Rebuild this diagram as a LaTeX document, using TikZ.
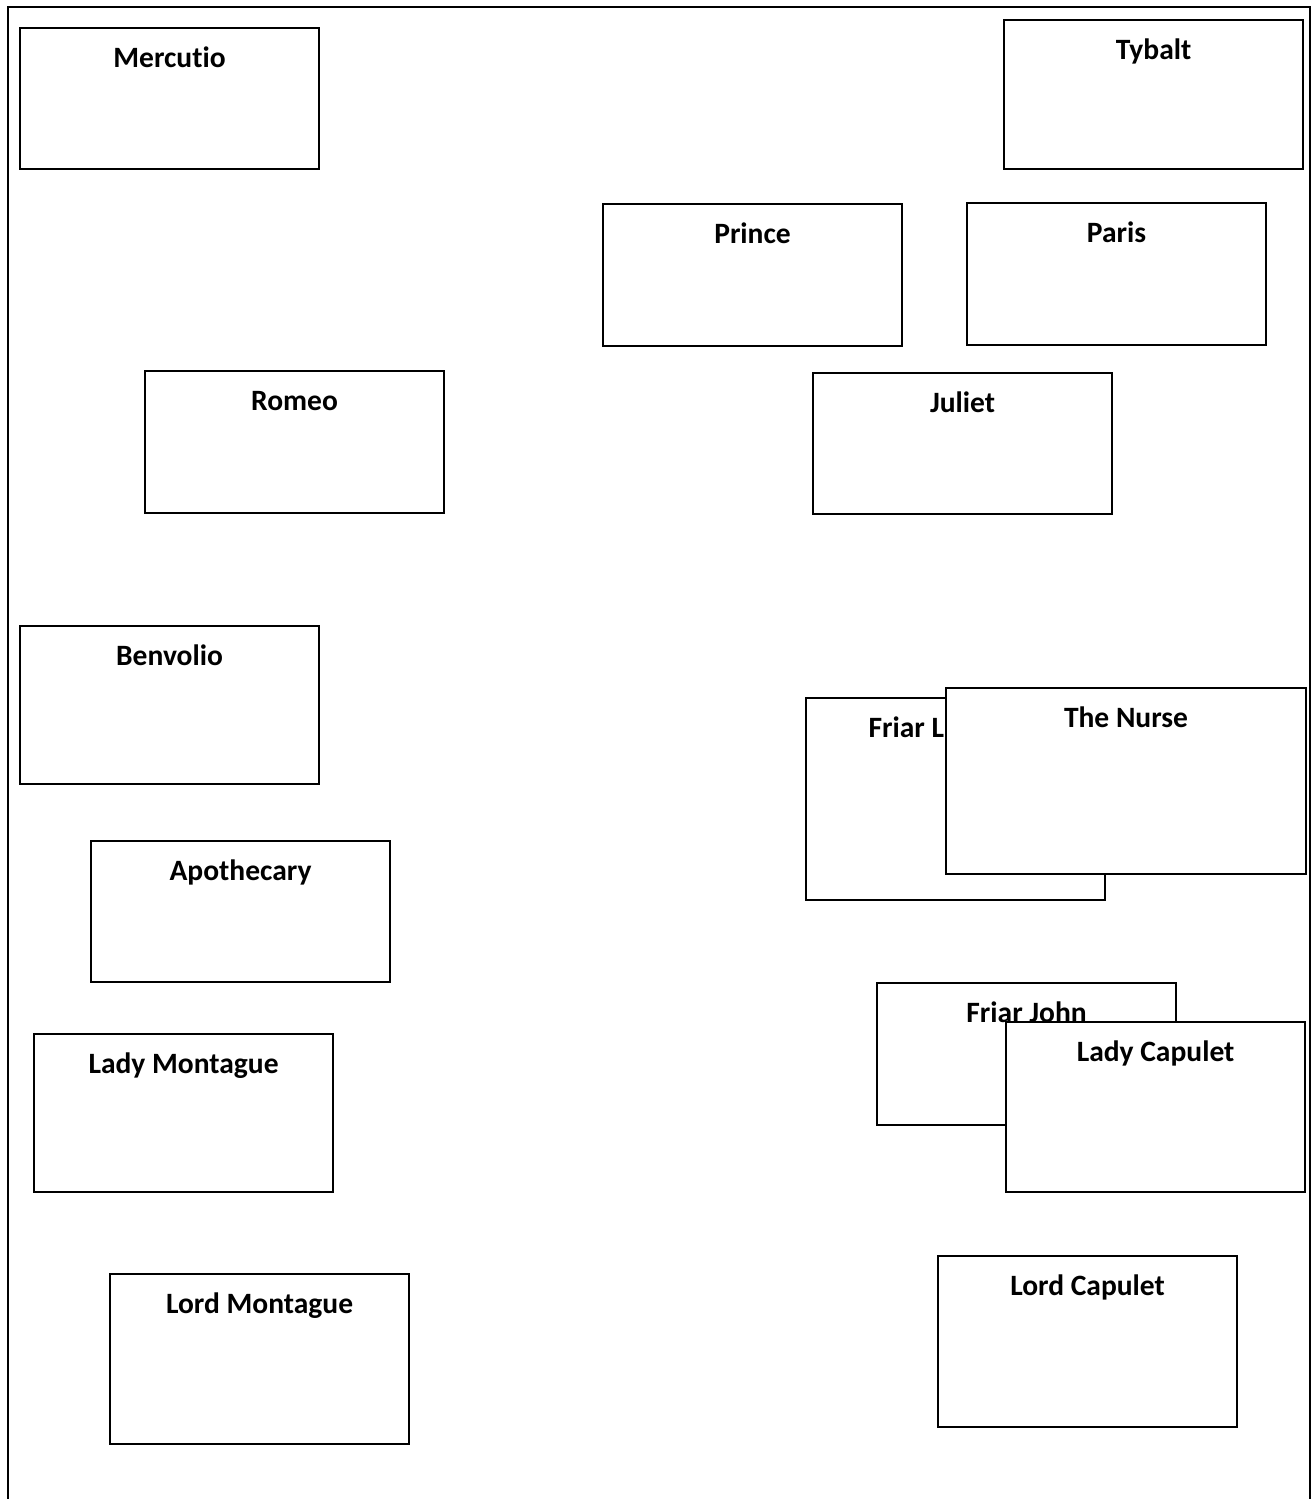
\documentclass[tikz,border=0pt]{standalone}
\usepackage{fontspec}
\setsansfont{Carlito}[Ligatures=NoCommon]
\usetikzlibrary{positioning}
\tikzset{
  frame/.style={draw=black,semithick},
  card/.style={draw=black,semithick,fill=white,anchor=north west,inner sep=0pt,
    minimum width=29.9mm,text height=3.9mm,align=center,
    font=\sffamily\bfseries\fontsize{8.4}{10}\selectfont},
  every node/.style={font=\sffamily\bfseries}
}
\begin{document}
\begin{tikzpicture}[x=0.1mm,y=-0.1mm]
\useasboundingbox (0,0) rectangle (1311,1499);
% outer page frame, open at the bottom
\coordinate (fl) at (8,1499);
\coordinate (fr) at (1310,1499);
\draw[frame] (fl) -- (8,7) -- (1310,7) -- (fr);
% left column
\node[card,text depth=10.2mm] (mercutio) at (19,27) {Mercutio};
\node[card,text depth=10.3mm] (romeo) at (144,370) {Romeo};
\node[card,text depth=11.9mm] (benvolio) at (19,625) {Benvolio};
\node[card,text depth=10.2mm] (apothecary) at (90,840) {Apothecary};
\node[card,text depth=11.9mm] (ladymontague) at (33,1033) {Lady Montague};
\node[card,text depth=13.1mm] (lordmontague) at (109,1273) {Lord Montague};
% right side
\node[card,text depth=11.0mm] (tybalt) at (1003,19) {Tybalt};
\node[card,text depth=10.3mm] (prince) at (602,203) {Prince};
\node[card,text depth=10.3mm] (paris) at (966,202) {Paris};
\node[card,text depth=10.2mm] (juliet) at (812,372) {Juliet};
\node[card,text depth=16.3mm] (friarlaurence) at (805,697) {Friar Laurence};
\node[card,text depth=14.7mm,minimum width=36.0mm] (nurse) at (945,687) {The Nurse};
\node[card,text depth=10.3mm] (friarjohn) at (876,982) {Friar John};
\node[card,text depth=13.1mm] (ladycapulet) at (1005,1021) {Lady Capulet};
\node[card,text depth=13.2mm] (lordcapulet) at (937,1255) {Lord Capulet};
\end{tikzpicture}
\end{document}
